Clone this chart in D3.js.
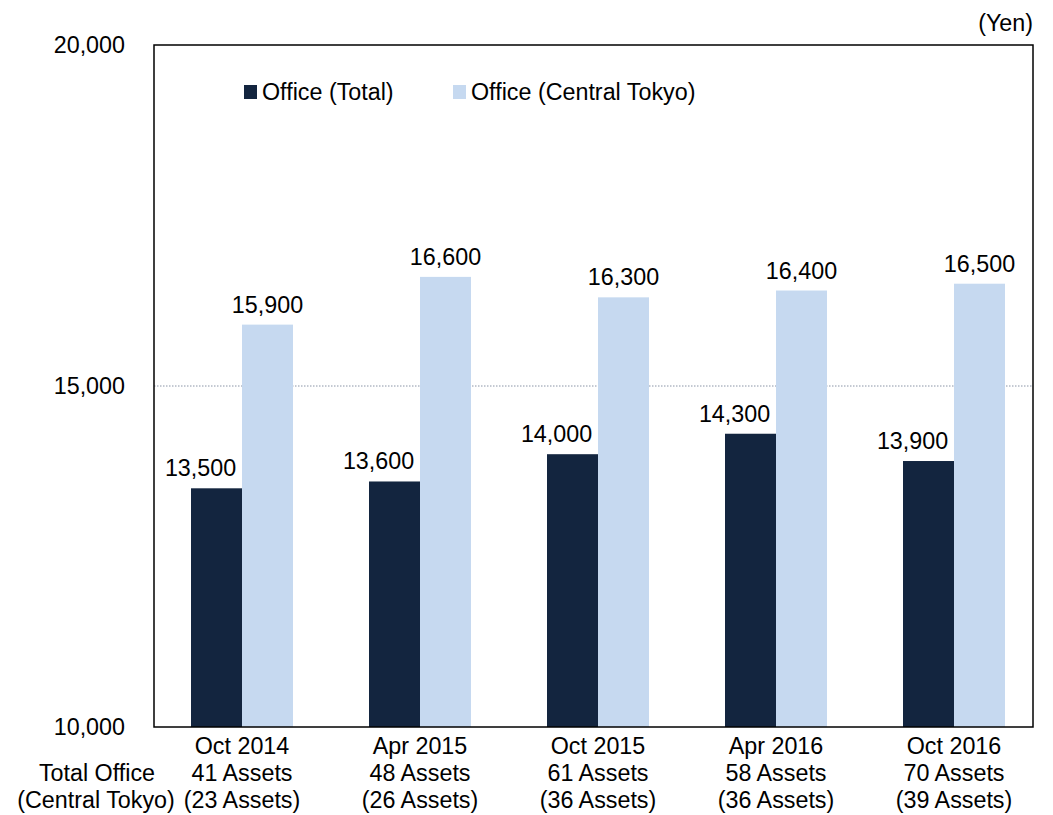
<!DOCTYPE html>
<html>
<head>
<meta charset="utf-8">
<script src="https://cdn.jsdelivr.net/npm/d3@7"></script>
<style>
  body { margin: 0; background: #fff; }
  text { font-family: Arial, "Liberation Sans", sans-serif; fill: #000; }
</style>
</head>
<body>
<svg id="chart" width="1053" height="815"></svg>
<script>
// periods and asset counts
var periods = ["Oct 2014", "Apr 2015", "Oct 2015", "Apr 2016", "Oct 2016"];
var totalAssets = ["41 Assets", "48 Assets", "61 Assets", "58 Assets", "70 Assets"];
var tokyoAssets = ["(23 Assets)", "(26 Assets)", "(36 Assets)", "(36 Assets)", "(39 Assets)"];
// rent (yen)
var officeTotal = [13500, 13600, 14000, 14300, 13900];
var officeTokyo = [15900, 16600, 16300, 16400, 16500];
var seriesNames = ["Office (Total)", "Office (Central Tokyo)"];
var yTicks = [10000, 15000, 20000];

var svg = d3.select("#chart");
//plot area bounds
var pLeft = 154, pRight = 1033, pTop = 45, pBottom = 727;
var colors = ["#13253f", "#c6d9f0"];
var fs = 23.3;

//bar groups are spaced a bit wider than the frame in the original
var x = d3.scaleBand().domain(periods).range([153, 1043]);
var inner = d3.scaleBand().domain([0, 1]).range([0, 102]);
var y = d3.scaleLinear().domain([10000, 20000]).range([pBottom, pTop]);
var fmt = d3.format(",");

//grid line at 15,000 (dotted)
svg.append("g").selectAll("line").data([15000]).enter().append("line")
    .attr("x1", pLeft).attr("x2", pRight)
    .attr("y1", function (d) { return y(d); }).attr("y2", function (d) { return y(d); })
    .attr("stroke", "#8a94a6").attr("stroke-width", 1).attr("stroke-dasharray", "1.5,1.5");

var rows = periods.map(function (p, i) { return {p: p, v: [officeTotal[i], officeTokyo[i]]}; });

var groups = svg.append("g").selectAll("g").data(rows).enter().append("g")
    .attr("transform", function (d) { return "translate(" + (x(d.p) + x.bandwidth() / 2 - 51) + ",0)"; });

groups.selectAll("rect").data(function (d) { return d.v; }).enter().append("rect")
    .attr("x", function (d, i) { return inner(i); })
    .attr("width", inner.bandwidth())
    .attr("y", function (d) { return y(d); })
    .attr("height", function (d) { return pBottom - y(d); })
    .attr("fill", function (d, i) { return colors[i]; });

//value labels; dark series labels sit a bit to the left like the original
groups.selectAll("text").data(function (d) { return d.v; }).enter().append("text")
    .attr("x", function (d, i) { return inner(i) + inner.bandwidth() / 2 - (i === 0 ? 16 : 0); })
    .attr("y", function (d) { return y(d) - 12; })
    .attr("text-anchor", "middle")
    .attr("font-size", fs)
    .text(function (d) { return fmt(d); });

//frame
svg.append("rect").attr("x", pLeft).attr("y", pTop).attr("width", pRight - pLeft).attr("height", pBottom - pTop)
    .attr("fill", "none").attr("stroke", "#000").attr("stroke-width", 1.5);

//y axis labels
var yAxis = d3.axisLeft(y).tickValues(yTicks).tickFormat(fmt).tickSize(0).tickPadding(29);
var ya = svg.append("g").attr("transform", "translate(" + pLeft + ",0)").call(yAxis);
ya.select(".domain").remove();
ya.selectAll("text").attr("font-size", fs).attr("font-family", "Arial, 'Liberation Sans', sans-serif").attr("fill", "#000");

//x axis labels (3 lines)
var xa = svg.append("g");
periods.forEach(function (p, i) {
    var cx = x(p) + x.bandwidth() / 2;
    [p, totalAssets[i], tokyoAssets[i]].forEach(function (t, j) {
        xa.append("text").attr("x", cx).attr("y", 754 + j * 27)
            .attr("text-anchor", "middle").attr("font-size", fs).text(t);
    });
});
xa.append("text").attr("x", 97).attr("y", 781).attr("text-anchor", "middle").attr("font-size", fs).text("Total Office");
xa.append("text").attr("x", 96).attr("y", 808).attr("text-anchor", "middle").attr("font-size", fs).text("(Central Tokyo)");

//unit
svg.append("text").attr("x", 1033).attr("y", 31).attr("text-anchor", "end").attr("font-size", fs).text("(Yen)");

//legend
var legX = [244, 453];
var leg = svg.append("g").selectAll("g").data(seriesNames).enter().append("g")
    .attr("transform", function (d, i) { return "translate(" + legX[i] + ",85)"; });
leg.append("rect").attr("width", 13).attr("height", 14).attr("fill", function (d, i) { return colors[i]; });
leg.append("text").attr("x", 18).attr("y", 15).attr("font-size", fs).text(function (d) { return d; });
</script>
</body>
</html>
